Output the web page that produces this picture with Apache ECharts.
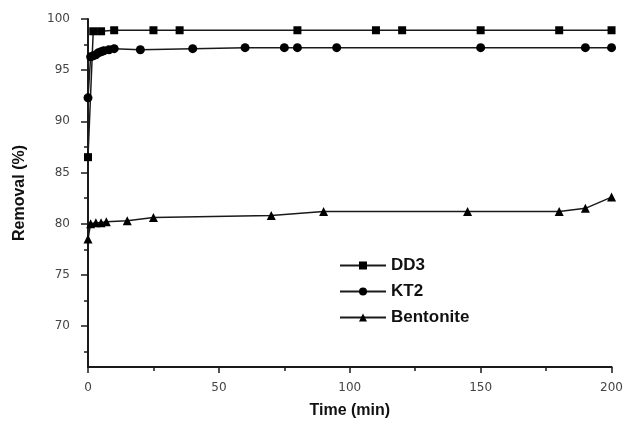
<!DOCTYPE html>
<html>
<head>
<meta charset="utf-8">
<script src="https://cdn.jsdelivr.net/npm/echarts@6/dist/echarts.min.js"></script>
<style>
  html, body { margin: 0; padding: 0; background: #fff; }
  #main { width: 626px; height: 427px; }
</style>
</head>
<body>
<div id="main"></div>
<script>
// time (min) and removal (%)
var dd3Time = [0, 2, 5, 10, 25, 35, 80, 110, 120, 150, 180, 200];
var dd3Removal = [86.5, 98.8, 98.8, 98.9, 98.9, 98.9, 98.9, 98.9, 98.9, 98.9, 98.9, 98.9];

var kt2Time = [0, 1, 2, 3, 4, 5, 6, 8, 10, 20, 40, 60, 75, 80, 95, 150, 190, 200];
var kt2Removal = [92.3, 96.3, 96.4, 96.5, 96.7, 96.8, 96.9, 97.0, 97.1, 97.0, 97.1, 97.2, 97.2, 97.2, 97.2, 97.2, 97.2, 97.2];

var bentTime = [0, 1, 3, 5, 7, 15, 25, 70, 90, 145, 180, 190, 200];
var bentRemoval = [78.5, 80.0, 80.1, 80.1, 80.2, 80.3, 80.6, 80.8, 81.2, 81.2, 81.2, 81.5, 82.6];

var xTicks = [0, 50, 100, 150, 200];
var yLabels = [70, 75, 80, 85, 90, 95, 100];
var yMinorTicks = [67.5, 72.5, 77.5, 82.5, 87.5, 92.5, 97.5];

function pairs(t, v) {
  return t.map(function (x, i) { return [x, v[i]]; });
}

var chart = echarts.init(document.getElementById('main'));

var lineColor = '#1a1a1a';
var labelFont = { fontFamily: 'DejaVu Sans', fontSize: 12, color: '#444' };
var titleFont = { fontFamily: 'Liberation Sans', fontWeight: 'bold', fontSize: 16, color: '#111' };

chart.setOption({
  animation: false,
  backgroundColor: '#fff',
  grid: { left: 88, right: 13, top: 19, bottom: 60 },
  legend: {
    orient: 'vertical',
    left: 334,
    top: 252,
    itemWidth: 46,
    itemHeight: 10,
    itemGap: 9,
    textStyle: { fontFamily: 'Liberation Sans', fontWeight: 'bold', fontSize: 17, color: '#111' },
    data: ['DD3', 'KT2', 'Bentonite']
  },
  xAxis: {
    type: 'value',
    min: 0,
    max: 200,
    interval: 50,
    name: 'Time (min)',
    nameLocation: 'middle',
    nameGap: 36,
    nameTextStyle: titleFont,
    axisLine: { lineStyle: { color: lineColor, width: 2 } },
    axisTick: { length: 6, lineStyle: { color: lineColor, width: 1.5 } },
    minorTick: { show: true, splitNumber: 2, length: 4, lineStyle: { color: lineColor, width: 1.5 } },
    axisLabel: Object.assign({ margin: 15, customValues: xTicks }, labelFont),
    splitLine: { show: false }
  },
  yAxis: [
    {
      type: 'value',
      min: 66,
      max: 100,
      name: 'Removal (%)',
      nameLocation: 'middle',
      nameGap: 60,
      nameTextStyle: titleFont,
      axisLine: { show: true, lineStyle: { color: lineColor, width: 2 } },
      axisTick: { show: true, length: 7, customValues: yLabels, lineStyle: { color: lineColor, width: 1.5 } },
      axisLabel: Object.assign({ margin: 18, customValues: yLabels }, labelFont),
      splitLine: { show: false }
    },
    {
      type: 'value',
      min: 66,
      max: 100,
      position: 'left',
      axisLine: { show: false },
      axisTick: { show: true, length: 4, customValues: yMinorTicks, lineStyle: { color: lineColor, width: 1.5 } },
      axisLabel: { show: false },
      splitLine: { show: false }
    }
  ],
  series: [
    {
      name: 'DD3',
      type: 'line',
      data: pairs(dd3Time, dd3Removal),
      symbol: 'rect',
      symbolSize: 8,
      itemStyle: { color: '#000' },
      lineStyle: { color: lineColor, width: 1.5 }
    },
    {
      name: 'KT2',
      type: 'line',
      data: pairs(kt2Time, kt2Removal),
      symbol: 'circle',
      symbolSize: 9,
      itemStyle: { color: '#000' },
      lineStyle: { color: lineColor, width: 1.5 }
    },
    {
      name: 'Bentonite',
      type: 'line',
      data: pairs(bentTime, bentRemoval),
      symbol: 'triangle',
      symbolSize: 9,
      itemStyle: { color: '#000' },
      lineStyle: { color: lineColor, width: 1.5 }
    }
  ]
});
</script>
</body>
</html>
